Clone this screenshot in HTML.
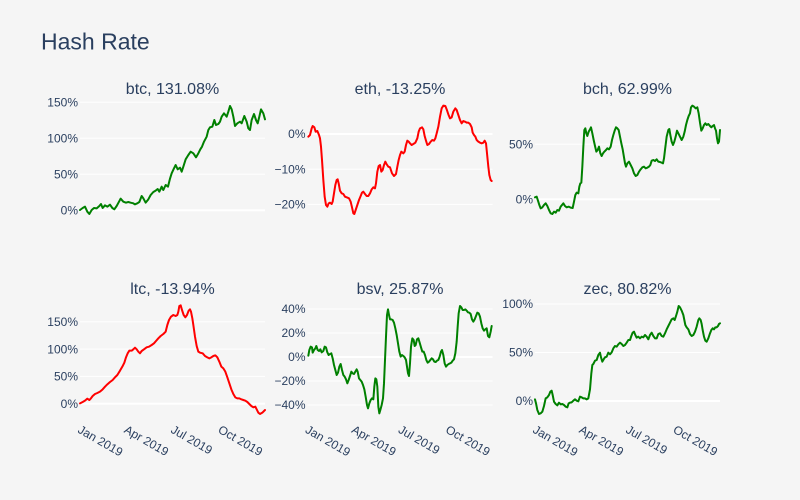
<!DOCTYPE html>
<html>
<head>
<meta charset="utf-8">
<style>
html,body{margin:0;padding:0;background:#f5f5f5;}
svg{display:block;}
text{font-family:"Liberation Sans",Arial,sans-serif;fill:#2a3f5f;}
.t{font-size:12px;text-anchor:end;}
.x{font-size:12px;}
.st{font-size:16px;text-anchor:middle;}
.g{stroke:#ffffff;stroke-width:1;}
.z{stroke:#ffffff;stroke-width:2;}
.ln{fill:none;stroke-width:2;stroke-linejoin:round;stroke-linecap:round;}
</style>
</head>
<body>
<svg width="800" height="500" viewBox="0 0 800 500" xmlns="http://www.w3.org/2000/svg">
<rect width="800" height="500" fill="#f5f5f5"/>
<text x="41" y="49.5" style="font-size:23px;">Hash Rate</text>

<!-- subplot titles -->
<text class="st" x="172.5" y="94">btc, 131.08%</text>
<text class="st" x="400" y="94">eth, -13.25%</text>
<text class="st" x="627.5" y="94">bch, 62.99%</text>
<text class="st" x="172.5" y="294">ltc, -13.94%</text>
<text class="st" x="400" y="294">bsv, 25.87%</text>
<text class="st" x="627.5" y="294">zec, 80.82%</text>

<!-- gridlines -->
<!-- btc -->
<line class="g" x1="80" x2="265" y1="102.3" y2="102.3"/>
<line class="g" x1="80" x2="265" y1="138.3" y2="138.3"/>
<line class="g" x1="80" x2="265" y1="174.3" y2="174.3"/>
<line class="z" x1="80" x2="265" y1="210.3" y2="210.3"/>
<!-- eth -->
<line class="z" x1="307.5" x2="492.5" y1="134" y2="134"/>
<line class="g" x1="307.5" x2="492.5" y1="169.2" y2="169.2"/>
<line class="g" x1="307.5" x2="492.5" y1="204.4" y2="204.4"/>
<!-- bch -->
<line class="g" x1="535" x2="720" y1="144.3" y2="144.3"/>
<line class="z" x1="535" x2="720" y1="199.3" y2="199.3"/>
<!-- ltc -->
<line class="g" x1="80" x2="265" y1="321.8" y2="321.8"/>
<line class="g" x1="80" x2="265" y1="349.1" y2="349.1"/>
<line class="g" x1="80" x2="265" y1="376.4" y2="376.4"/>
<line class="z" x1="80" x2="265" y1="403.7" y2="403.7"/>
<!-- bsv -->
<line class="g" x1="307.5" x2="492.5" y1="309" y2="309"/>
<line class="g" x1="307.5" x2="492.5" y1="333" y2="333"/>
<line class="z" x1="307.5" x2="492.5" y1="357" y2="357"/>
<line class="g" x1="307.5" x2="492.5" y1="381" y2="381"/>
<line class="g" x1="307.5" x2="492.5" y1="405" y2="405"/>
<!-- zec -->
<line class="g" x1="535" x2="720" y1="304" y2="304"/>
<line class="g" x1="535" x2="720" y1="352.5" y2="352.5"/>
<line class="z" x1="535" x2="720" y1="401" y2="401"/>

<!-- y tick labels -->
<text class="t" x="78" y="106.5">150%</text>
<text class="t" x="78" y="142.5">100%</text>
<text class="t" x="78" y="178.5">50%</text>
<text class="t" x="78" y="214.5">0%</text>

<text class="t" x="305.5" y="138.2">0%</text>
<text class="t" x="305.5" y="173.4">−10%</text>
<text class="t" x="305.5" y="208.6">−20%</text>

<text class="t" x="533" y="148.5">50%</text>
<text class="t" x="533" y="203.5">0%</text>

<text class="t" x="78" y="326">150%</text>
<text class="t" x="78" y="353.3">100%</text>
<text class="t" x="78" y="380.6">50%</text>
<text class="t" x="78" y="407.9">0%</text>

<text class="t" x="305.5" y="313.2">40%</text>
<text class="t" x="305.5" y="337.2">20%</text>
<text class="t" x="305.5" y="361.2">0%</text>
<text class="t" x="305.5" y="385.2">−20%</text>
<text class="t" x="305.5" y="409.2">−40%</text>

<text class="t" x="533" y="308.2">100%</text>
<text class="t" x="533" y="356.7">50%</text>
<text class="t" x="533" y="405.2">0%</text>

<!-- x tick labels -->
<g class="x">
<text class="x" transform="translate(77,432) rotate(30)">Jan 2019</text>
<text class="x" transform="translate(123.3,432) rotate(30)">Apr 2019</text>
<text class="x" transform="translate(170,432) rotate(30)">Jul 2019</text>
<text class="x" transform="translate(217.3,432) rotate(30)">Oct 2019</text>

<text class="x" transform="translate(304.5,432) rotate(30)">Jan 2019</text>
<text class="x" transform="translate(350.8,432) rotate(30)">Apr 2019</text>
<text class="x" transform="translate(397.5,432) rotate(30)">Jul 2019</text>
<text class="x" transform="translate(444.8,432) rotate(30)">Oct 2019</text>

<text class="x" transform="translate(532,432) rotate(30)">Jan 2019</text>
<text class="x" transform="translate(578.3,432) rotate(30)">Apr 2019</text>
<text class="x" transform="translate(625,432) rotate(30)">Jul 2019</text>
<text class="x" transform="translate(672.3,432) rotate(30)">Oct 2019</text>
</g>

<!-- btc -->
<g transform="translate(0,70) scale(0.333333)">
<polyline class="ln" stroke="#008000" vector-effect="non-scaling-stroke" points="240,420 248,414 255,410 262,425 268,432 275,420 282,414 290,415 298,408 303,402 308,414 315,406 322,410 330,404 337,414 343,418 350,408 357,395 362,386 370,395 378,398 385,396 392,398 400,400 405,403 412,400 418,396 425,378 430,385 437,398 445,388 452,375 460,366 467,362 473,357 478,365 485,350 490,360 497,345 504,350 510,326 515,310 522,295 527,285 533,298 540,293 545,305 550,290 557,268 565,255 572,245 580,250 588,262 595,250 601,238 606,230 612,215 620,200 625,180 630,172 637,170 643,150 648,165 655,162 660,155 665,140 672,130 680,140 685,125 690,108 695,118 700,140 705,168 712,160 720,155 725,160 733,138 740,155 745,175 750,180 755,150 762,132 768,150 773,160 778,140 783,118 790,130 795,148"/>
</g>

<!-- eth -->
<g transform="translate(270,70) scale(0.333333)">
<polyline class="ln" stroke="#ff0000" vector-effect="non-scaling-stroke" points="115,200 120,195 125,175 128,168 133,172 137,185 142,183 147,195 150,205 153,230 156,270 160,330 164,380 168,405 172,410 176,400 180,398 185,402 188,395 192,370 196,345 200,330 203,328 206,340 210,362 215,370 220,372 225,380 230,382 237,385 242,395 246,412 250,430 253,432 257,420 262,405 267,390 272,378 276,368 280,365 285,372 290,378 295,378 300,370 305,358 310,352 315,355 318,340 322,305 326,288 330,285 334,305 338,300 342,285 346,275 350,283 355,290 360,292 366,310 372,318 378,312 382,290 386,270 390,255 394,245 400,250 404,245 408,225 412,212 416,215 420,220 425,225 430,222 436,218 442,205 446,185 450,175 456,172 460,178 464,198 468,212 472,225 477,222 482,215 487,210 492,212 496,205 500,190 505,170 510,140 515,115 520,107 526,108 530,118 535,133 540,145 545,142 550,125 556,115 560,120 565,135 570,150 575,160 580,153 585,155 590,158 595,158 600,162 605,172 608,188 612,195 616,200 620,210 625,215 630,218 635,220 640,218 644,212 648,220 651,250 655,290 658,315 662,330 665,333"/>
</g>

<!-- bch -->
<g transform="translate(500,70) scale(0.333333)">
<polyline class="ln" stroke="#008000" vector-effect="non-scaling-stroke" points="105,382 110,380 114,392 118,405 122,415 127,412 132,405 137,400 142,408 147,420 152,430 157,432 162,425 167,428 172,420 177,422 182,410 186,405 190,400 195,408 200,412 206,410 212,413 218,414 222,395 226,375 230,368 235,370 238,350 241,340 244,338 247,290 250,230 253,180 256,175 259,190 262,198 266,185 270,178 273,172 277,190 281,210 285,228 289,245 293,240 297,230 301,250 305,258 309,250 313,245 318,240 322,235 327,238 332,230 336,210 340,195 344,182 348,172 352,175 356,180 360,200 364,220 368,238 372,262 375,280 378,290 382,280 387,275 392,285 397,295 402,310 407,318 412,315 417,305 422,298 427,292 432,290 437,295 442,293 447,290 451,285 455,272 460,270 465,273 470,268 475,275 480,276 485,278 489,280 492,265 495,240 500,200 505,180 508,177 511,195 515,215 519,225 523,215 527,200 531,182 535,190 540,200 545,210 550,200 554,185 558,165 562,150 566,138 570,130 573,112 577,107 582,110 587,115 592,112 596,130 600,158 604,182 608,175 612,165 616,160 620,165 625,162 630,168 634,172 638,168 642,165 645,175 648,182 651,205 654,220 657,215 660,180"/>
</g>

<!-- ltc -->
<g transform="translate(0,270) scale(0.333333)">
<polyline class="ln" stroke="#ff0000" vector-effect="non-scaling-stroke" points="240,400 248,396 255,392 262,386 268,390 272,386 278,378 285,372 292,369 300,365 308,358 315,350 322,343 330,336 338,330 345,322 352,315 360,302 367,290 373,278 378,262 383,250 388,242 395,242 400,238 405,233 410,238 415,245 420,250 425,243 432,238 440,232 447,230 455,225 462,220 468,213 475,205 482,198 490,192 497,185 502,165 507,150 513,140 520,135 527,138 532,135 535,125 538,108 542,106 546,120 551,135 556,142 561,135 566,122 570,118 573,125 577,145 580,165 585,200 590,228 595,245 600,248 608,250 615,258 622,262 628,265 634,262 640,258 646,256 652,262 658,275 664,290 670,295 676,305 682,322 688,340 694,358 700,372 706,382 712,385 718,385 724,388 730,390 736,392 742,396 748,402 754,408 760,412 766,410 770,418 775,428 780,432 787,428 795,420"/>
</g>

<!-- bsv -->
<g transform="translate(270,270) scale(0.333333)">
<polyline class="ln" stroke="#008000" vector-effect="non-scaling-stroke" points="115,257 118,240 122,230 126,232 128,248 132,240 136,235 139,228 143,240 147,243 151,238 155,247 160,243 164,230 168,232 172,247 176,255 180,252 184,250 188,265 192,285 196,300 200,315 204,308 208,290 212,282 216,300 220,315 224,320 228,328 232,340 236,330 240,318 244,305 248,310 252,312 256,305 260,298 263,305 267,325 271,330 275,335 279,345 283,358 287,380 291,405 294,415 298,400 302,390 306,385 310,388 313,350 316,325 319,328 322,350 325,410 328,430 331,420 335,405 339,385 342,340 345,270 348,200 351,135 354,118 357,135 360,148 364,148 368,150 372,158 376,175 380,195 384,220 388,245 392,260 396,255 400,258 404,262 408,270 411,290 414,310 417,318 420,280 423,230 427,205 431,210 434,228 437,225 441,208 445,205 449,218 453,232 457,245 461,245 465,255 469,270 473,278 477,275 481,270 485,265 489,268 493,275 497,276 501,272 505,270 509,260 513,245 516,240 520,255 524,280 528,290 532,285 536,282 540,280 544,278 548,272 552,268 556,250 560,215 563,170 566,130 570,108 574,112 578,120 582,120 586,118 590,122 594,127 598,128 602,132 606,148 610,155 614,148 618,138 622,128 626,130 630,140 634,160 638,175 642,182 646,178 650,175 654,198 658,202 662,185 665,168"/>
</g>

<!-- zec -->
<g transform="translate(500,270) scale(0.333333)">
<polyline class="ln" stroke="#008000" vector-effect="non-scaling-stroke" points="105,388 108,400 112,420 117,432 122,430 127,425 132,408 137,385 142,382 147,375 151,365 155,362 158,375 162,395 167,402 172,406 177,398 182,403 187,402 192,405 197,410 202,412 206,400 210,398 215,397 220,392 225,388 230,392 235,394 240,380 245,382 250,385 255,385 260,388 265,385 270,358 274,310 277,285 280,282 285,272 290,270 295,255 300,248 303,262 307,275 311,268 315,262 320,260 325,248 330,253 335,247 340,235 345,228 350,230 355,223 360,218 365,222 370,228 375,225 380,218 385,210 390,210 394,198 398,188 402,185 406,195 410,203 415,200 420,205 425,200 430,202 435,195 440,200 445,208 450,195 455,188 460,198 465,205 470,205 475,192 480,190 485,198 490,200 495,190 500,178 505,168 510,158 515,148 520,145 524,150 528,138 532,125 536,108 540,112 545,122 550,135 553,150 556,165 560,172 565,178 570,192 575,198 580,195 585,185 590,170 595,150 598,145 602,150 605,162 608,180 612,200 616,212 620,215 625,205 630,190 634,180 638,175 642,178 646,172 650,172 654,168 657,162 660,160"/>
</g>
</svg>
</body>
</html>
